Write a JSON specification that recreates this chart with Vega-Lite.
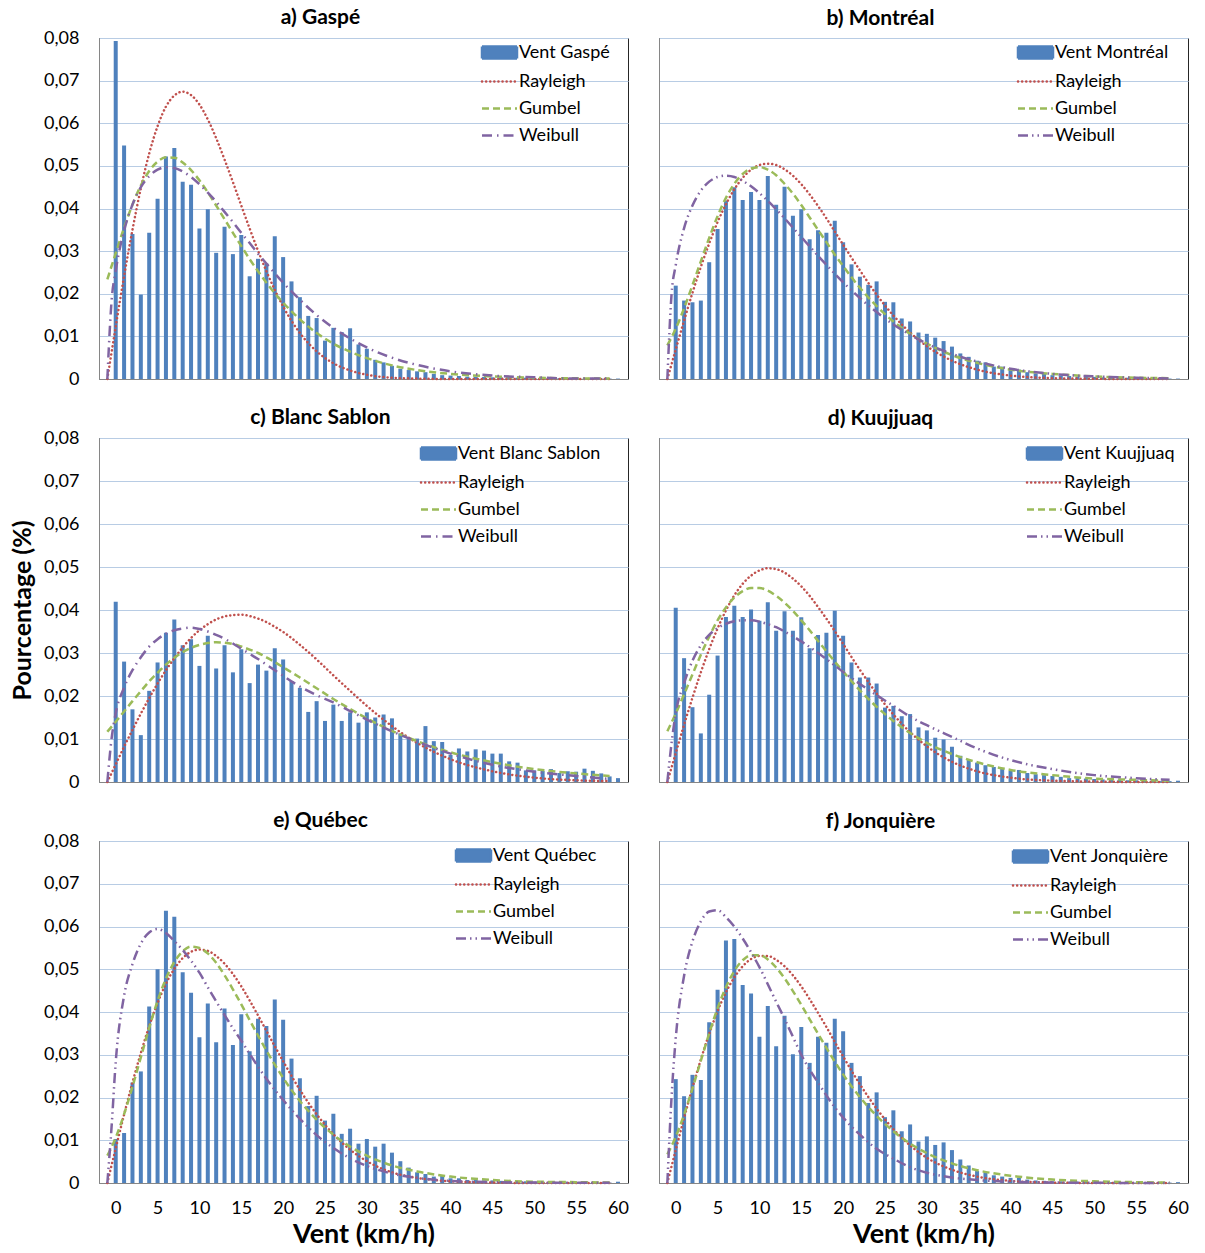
{
"$schema": "https://vega.github.io/schema/vega-lite/v6.json",
"background": "white",
"padding": {"left": 10, "top": 6, "right": 5, "bottom": 5},
"config": {
  "font": "Lato",
  "view": {"stroke": "#262626", "strokeWidth": 1},
  "axis": {"domainColor": "#868686", "gridColor": "#b8cce4", "gridWidth": 1, "ticks": false, "labelFont": "Lato", "labelFontSize": 18, "labelColor": "#000000", "titleFont": "Lato", "titleFontWeight": "bold", "titleColor": "#000000"},
  "title": {"font": "Lato", "fontSize": 21, "fontWeight": "bold", "color": "#000000", "dx": -43, "offset": 1, "baseline": "alphabetic"},
  "legend": {"orient": "none", "labelFont": "Lato", "labelFontSize": 18, "labelColor": "#000000", "symbolSize": 400, "rowPadding": 6, "labelOffset": 8, "padding": 0, "symbolStrokeWidth": 2.5}
},
"datasets": {
"a": [
{"s":"V","x":0,"y":0.0793},{"s":"V","x":1,"y":0.0548},{"s":"V","x":2,"y":0.034},{"s":"V","x":3,"y":0.0198},{"s":"V","x":4,"y":0.0343},{"s":"V","x":5,"y":0.0423},{"s":"V","x":6,"y":0.0522},{"s":"V","x":7,"y":0.0542},{"s":"V","x":8,"y":0.0463},{"s":"V","x":9,"y":0.0456},{"s":"V","x":10,"y":0.0353},{"s":"V","x":11,"y":0.0398},{"s":"V","x":12,"y":0.0296},{"s":"V","x":13,"y":0.0357},{"s":"V","x":14,"y":0.0293},{"s":"V","x":15,"y":0.0338},{"s":"V","x":16,"y":0.0241},{"s":"V","x":17,"y":0.0282},{"s":"V","x":18,"y":0.0271},{"s":"V","x":19,"y":0.0335},{"s":"V","x":20,"y":0.0286},{"s":"V","x":21,"y":0.0229},{"s":"V","x":22,"y":0.0192},{"s":"V","x":23,"y":0.0148},{"s":"V","x":24,"y":0.0143},{"s":"V","x":25,"y":0.009},{"s":"V","x":26,"y":0.012},{"s":"V","x":27,"y":0.011},{"s":"V","x":28,"y":0.0119},{"s":"V","x":29,"y":0.0081},{"s":"V","x":30,"y":0.0071},{"s":"V","x":31,"y":0.0045},{"s":"V","x":32,"y":0.0039},{"s":"V","x":33,"y":0.0031},{"s":"V","x":34,"y":0.0024},{"s":"V","x":35,"y":0.0021},{"s":"V","x":36,"y":0.0018},{"s":"V","x":37,"y":0.0016},{"s":"V","x":38,"y":0.0012},{"s":"V","x":39,"y":0.0009},{"s":"V","x":40,"y":0.0008},{"s":"V","x":41,"y":0.0007},{"s":"V","x":42,"y":0.00055},{"s":"V","x":43,"y":0.0005},{"s":"V","x":44,"y":0.0005},{"s":"V","x":45,"y":0.0004},{"s":"V","x":46,"y":0.0004},{"s":"V","x":47,"y":0.0003},{"s":"V","x":48,"y":0.0003},{"s":"V","x":49,"y":0.0003},{"s":"V","x":50,"y":0.0002},{"s":"V","x":51,"y":0.0002},{"s":"V","x":52,"y":0.0002},{"s":"V","x":53,"y":0.0002},{"s":"V","x":54,"y":0.0001},{"s":"V","x":55,"y":0.0001},{"s":"V","x":56,"y":0.0001},{"s":"V","x":57,"y":0.0001},{"s":"V","x":58,"y":0.0001},{"s":"V","x":59,"y":0.0001},{"s":"V","x":60,"y":0.0001},
{"s":"R","x":-1,"y":0},{"s":"R","x":0,"y":0.0123},{"s":"R","x":1,"y":0.0241},{"s":"R","x":2,"y":0.035},{"s":"R","x":3,"y":0.0447},{"s":"R","x":4,"y":0.0529},{"s":"R","x":5,"y":0.0593},{"s":"R","x":6,"y":0.0639},{"s":"R","x":7,"y":0.0665},{"s":"R","x":8,"y":0.0674},{"s":"R","x":9,"y":0.0666},{"s":"R","x":10,"y":0.0644},{"s":"R","x":11,"y":0.0609},{"s":"R","x":12,"y":0.0565},{"s":"R","x":13,"y":0.0515},{"s":"R","x":14,"y":0.0462},{"s":"R","x":15,"y":0.0407},{"s":"R","x":16,"y":0.0353},{"s":"R","x":17,"y":0.0301},{"s":"R","x":18,"y":0.0253},{"s":"R","x":19,"y":0.0209},{"s":"R","x":20,"y":0.017},{"s":"R","x":22,"y":0.0108},{"s":"R","x":24,"y":0.0065},{"s":"R","x":26,"y":0.0037},{"s":"R","x":28,"y":0.002},{"s":"R","x":30,"y":0.001},{"s":"R","x":33,"y":0.0003},{"s":"R","x":36,"y":0.0001},{"s":"R","x":40,"y":0},{"s":"R","x":45,"y":0},{"s":"R","x":50,"y":0},{"s":"R","x":55,"y":0},{"s":"R","x":59,"y":0},
{"s":"G","x":-1,"y":0.0234},{"s":"G","x":0,"y":0.0295},{"s":"G","x":1,"y":0.0355},{"s":"G","x":2,"y":0.0409},{"s":"G","x":3,"y":0.0454},{"s":"G","x":4,"y":0.0488},{"s":"G","x":5,"y":0.051},{"s":"G","x":6,"y":0.052},{"s":"G","x":7,"y":0.0519},{"s":"G","x":8,"y":0.0508},{"s":"G","x":9,"y":0.049},{"s":"G","x":10,"y":0.0466},{"s":"G","x":11,"y":0.0438},{"s":"G","x":12,"y":0.0407},{"s":"G","x":13,"y":0.0375},{"s":"G","x":14,"y":0.0343},{"s":"G","x":15,"y":0.0312},{"s":"G","x":16,"y":0.0281},{"s":"G","x":17,"y":0.0253},{"s":"G","x":18,"y":0.0226},{"s":"G","x":19,"y":0.0201},{"s":"G","x":20,"y":0.0179},{"s":"G","x":22,"y":0.014},{"s":"G","x":24,"y":0.0108},{"s":"G","x":26,"y":0.0083},{"s":"G","x":28,"y":0.0064},{"s":"G","x":30,"y":0.0049},{"s":"G","x":33,"y":0.0032},{"s":"G","x":36,"y":0.0021},{"s":"G","x":40,"y":0.0012},{"s":"G","x":45,"y":0.0006},{"s":"G","x":50,"y":0.0003},{"s":"G","x":55,"y":0.00015},{"s":"G","x":59,"y":0.0001},
{"s":"W","x":-1,"y":0},{"s":"W","x":-0.5,"y":0.0182},{"s":"W","x":0,"y":0.0254},{"s":"W","x":1,"y":0.0348},{"s":"W","x":2,"y":0.0409},{"s":"W","x":3,"y":0.045},{"s":"W","x":4,"y":0.0476},{"s":"W","x":5,"y":0.0491},{"s":"W","x":6,"y":0.0497},{"s":"W","x":7,"y":0.0495},{"s":"W","x":8,"y":0.0487},{"s":"W","x":9,"y":0.0474},{"s":"W","x":10,"y":0.0457},{"s":"W","x":11,"y":0.0437},{"s":"W","x":12,"y":0.0416},{"s":"W","x":13,"y":0.0392},{"s":"W","x":14,"y":0.0368},{"s":"W","x":15,"y":0.0343},{"s":"W","x":16,"y":0.0319},{"s":"W","x":17,"y":0.0294},{"s":"W","x":18,"y":0.0271},{"s":"W","x":19,"y":0.0248},{"s":"W","x":20,"y":0.0226},{"s":"W","x":22,"y":0.0186},{"s":"W","x":24,"y":0.015},{"s":"W","x":26,"y":0.012},{"s":"W","x":28,"y":0.0095},{"s":"W","x":30,"y":0.0074},{"s":"W","x":33,"y":0.005},{"s":"W","x":36,"y":0.0033},{"s":"W","x":40,"y":0.0018},{"s":"W","x":45,"y":0.0008},{"s":"W","x":50,"y":0.0004},{"s":"W","x":55,"y":0.0001},{"s":"W","x":59,"y":0.0001}
],
"b": [
{"s":"V","x":0,"y":0.0219},{"s":"V","x":1,"y":0.0184},{"s":"V","x":2,"y":0.018},{"s":"V","x":3,"y":0.0184},{"s":"V","x":4,"y":0.0274},{"s":"V","x":5,"y":0.0352},{"s":"V","x":6,"y":0.0419},{"s":"V","x":7,"y":0.045},{"s":"V","x":8,"y":0.042},{"s":"V","x":9,"y":0.0439},{"s":"V","x":10,"y":0.042},{"s":"V","x":11,"y":0.0476},{"s":"V","x":12,"y":0.0409},{"s":"V","x":13,"y":0.0451},{"s":"V","x":14,"y":0.0383},{"s":"V","x":15,"y":0.0398},{"s":"V","x":16,"y":0.0328},{"s":"V","x":17,"y":0.0349},{"s":"V","x":18,"y":0.0343},{"s":"V","x":19,"y":0.0371},{"s":"V","x":20,"y":0.0321},{"s":"V","x":21,"y":0.0269},{"s":"V","x":22,"y":0.024},{"s":"V","x":23,"y":0.0221},{"s":"V","x":24,"y":0.0229},{"s":"V","x":25,"y":0.0181},{"s":"V","x":26,"y":0.018},{"s":"V","x":27,"y":0.0142},{"s":"V","x":28,"y":0.0135},{"s":"V","x":29,"y":0.0109},{"s":"V","x":30,"y":0.0106},{"s":"V","x":31,"y":0.0097},{"s":"V","x":32,"y":0.0089},{"s":"V","x":33,"y":0.0076},{"s":"V","x":34,"y":0.006},{"s":"V","x":35,"y":0.0052},{"s":"V","x":36,"y":0.0043},{"s":"V","x":37,"y":0.0039},{"s":"V","x":38,"y":0.0029},{"s":"V","x":39,"y":0.0029},{"s":"V","x":40,"y":0.0023},{"s":"V","x":41,"y":0.0022},{"s":"V","x":42,"y":0.0016},{"s":"V","x":43,"y":0.0013},{"s":"V","x":44,"y":0.0012},{"s":"V","x":45,"y":0.0009},{"s":"V","x":46,"y":0.0008},{"s":"V","x":47,"y":0.0007},{"s":"V","x":48,"y":0.0006},{"s":"V","x":49,"y":0.0005},{"s":"V","x":50,"y":0.0005},{"s":"V","x":51,"y":0.0004},{"s":"V","x":52,"y":0.0004},{"s":"V","x":53,"y":0.0003},{"s":"V","x":54,"y":0.0003},{"s":"V","x":55,"y":0.0002},{"s":"V","x":56,"y":0.0002},{"s":"V","x":57,"y":0.0002},{"s":"V","x":58,"y":0.0001},{"s":"V","x":59,"y":0.0001},{"s":"V","x":60,"y":0.0001},
{"s":"R","x":-1,"y":0},{"s":"R","x":0,"y":0.0069},{"s":"R","x":1,"y":0.0137},{"s":"R","x":2,"y":0.0202},{"s":"R","x":3,"y":0.0263},{"s":"R","x":4,"y":0.0318},{"s":"R","x":5,"y":0.0368},{"s":"R","x":6,"y":0.041},{"s":"R","x":7,"y":0.0445},{"s":"R","x":8,"y":0.0472},{"s":"R","x":9,"y":0.0491},{"s":"R","x":10,"y":0.0502},{"s":"R","x":11,"y":0.0505},{"s":"R","x":12,"y":0.0502},{"s":"R","x":13,"y":0.0492},{"s":"R","x":14,"y":0.0477},{"s":"R","x":15,"y":0.0457},{"s":"R","x":16,"y":0.0433},{"s":"R","x":17,"y":0.0406},{"s":"R","x":18,"y":0.0377},{"s":"R","x":19,"y":0.0346},{"s":"R","x":20,"y":0.0315},{"s":"R","x":22,"y":0.0255},{"s":"R","x":24,"y":0.0198},{"s":"R","x":26,"y":0.0149},{"s":"R","x":28,"y":0.0109},{"s":"R","x":30,"y":0.0077},{"s":"R","x":33,"y":0.0043},{"s":"R","x":36,"y":0.0022},{"s":"R","x":40,"y":0.0008},{"s":"R","x":45,"y":0.0002},{"s":"R","x":50,"y":0.00005},{"s":"R","x":55,"y":0},{"s":"R","x":59,"y":0},
{"s":"G","x":-1,"y":0.0079},{"s":"G","x":0,"y":0.0118},{"s":"G","x":1,"y":0.0166},{"s":"G","x":2,"y":0.022},{"s":"G","x":3,"y":0.0276},{"s":"G","x":4,"y":0.0331},{"s":"G","x":5,"y":0.0382},{"s":"G","x":6,"y":0.0425},{"s":"G","x":7,"y":0.0458},{"s":"G","x":8,"y":0.0481},{"s":"G","x":9,"y":0.0494},{"s":"G","x":10,"y":0.0497},{"s":"G","x":11,"y":0.0491},{"s":"G","x":12,"y":0.0478},{"s":"G","x":13,"y":0.0458},{"s":"G","x":14,"y":0.0435},{"s":"G","x":15,"y":0.0408},{"s":"G","x":16,"y":0.0379},{"s":"G","x":17,"y":0.035},{"s":"G","x":18,"y":0.0321},{"s":"G","x":19,"y":0.0292},{"s":"G","x":20,"y":0.0265},{"s":"G","x":22,"y":0.0214},{"s":"G","x":24,"y":0.0171},{"s":"G","x":26,"y":0.0135},{"s":"G","x":28,"y":0.0106},{"s":"G","x":30,"y":0.0083},{"s":"G","x":33,"y":0.0056},{"s":"G","x":36,"y":0.0038},{"s":"G","x":40,"y":0.0022},{"s":"G","x":45,"y":0.0012},{"s":"G","x":50,"y":0.0006},{"s":"G","x":55,"y":0.0003},{"s":"G","x":59,"y":0.0002},
{"s":"W","x":-1,"y":0},{"s":"W","x":-0.5,"y":0.0198},{"s":"W","x":0,"y":0.0267},{"s":"W","x":1,"y":0.0354},{"s":"W","x":2,"y":0.0407},{"s":"W","x":3,"y":0.0442},{"s":"W","x":4,"y":0.0463},{"s":"W","x":5,"y":0.0474},{"s":"W","x":6,"y":0.0477},{"s":"W","x":7,"y":0.0474},{"s":"W","x":8,"y":0.0465},{"s":"W","x":9,"y":0.0452},{"s":"W","x":10,"y":0.0436},{"s":"W","x":11,"y":0.0418},{"s":"W","x":12,"y":0.0398},{"s":"W","x":13,"y":0.0377},{"s":"W","x":14,"y":0.0355},{"s":"W","x":15,"y":0.0333},{"s":"W","x":16,"y":0.0311},{"s":"W","x":17,"y":0.0289},{"s":"W","x":18,"y":0.0268},{"s":"W","x":19,"y":0.0247},{"s":"W","x":20,"y":0.0227},{"s":"W","x":22,"y":0.019},{"s":"W","x":24,"y":0.0157},{"s":"W","x":26,"y":0.0128},{"s":"W","x":28,"y":0.0104},{"s":"W","x":30,"y":0.0083},{"s":"W","x":33,"y":0.0059},{"s":"W","x":36,"y":0.0041},{"s":"W","x":40,"y":0.0024},{"s":"W","x":45,"y":0.0012},{"s":"W","x":50,"y":0.0006},{"s":"W","x":55,"y":0.0003},{"s":"W","x":59,"y":0.0001}
],
"c": [
{"s":"V","x":0,"y":0.0419},{"s":"V","x":1,"y":0.028},{"s":"V","x":2,"y":0.0169},{"s":"V","x":3,"y":0.0109},{"s":"V","x":4,"y":0.0212},{"s":"V","x":5,"y":0.0278},{"s":"V","x":6,"y":0.0347},{"s":"V","x":7,"y":0.0378},{"s":"V","x":8,"y":0.0318},{"s":"V","x":9,"y":0.0332},{"s":"V","x":10,"y":0.027},{"s":"V","x":11,"y":0.034},{"s":"V","x":12,"y":0.0264},{"s":"V","x":13,"y":0.0318},{"s":"V","x":14,"y":0.0255},{"s":"V","x":15,"y":0.0309},{"s":"V","x":16,"y":0.023},{"s":"V","x":17,"y":0.0273},{"s":"V","x":18,"y":0.0259},{"s":"V","x":19,"y":0.0311},{"s":"V","x":20,"y":0.0285},{"s":"V","x":21,"y":0.0235},{"s":"V","x":22,"y":0.0219},{"s":"V","x":23,"y":0.0163},{"s":"V","x":24,"y":0.0188},{"s":"V","x":25,"y":0.0142},{"s":"V","x":26,"y":0.018},{"s":"V","x":27,"y":0.0142},{"s":"V","x":28,"y":0.0162},{"s":"V","x":29,"y":0.0138},{"s":"V","x":30,"y":0.0162},{"s":"V","x":31,"y":0.015},{"s":"V","x":32,"y":0.0157},{"s":"V","x":33,"y":0.0148},{"s":"V","x":34,"y":0.0113},{"s":"V","x":35,"y":0.0101},{"s":"V","x":36,"y":0.0101},{"s":"V","x":37,"y":0.013},{"s":"V","x":38,"y":0.0095},{"s":"V","x":39,"y":0.0093},{"s":"V","x":40,"y":0.0063},{"s":"V","x":41,"y":0.0078},{"s":"V","x":42,"y":0.0071},{"s":"V","x":43,"y":0.0076},{"s":"V","x":44,"y":0.0073},{"s":"V","x":45,"y":0.0066},{"s":"V","x":46,"y":0.0066},{"s":"V","x":47,"y":0.0048},{"s":"V","x":48,"y":0.0045},{"s":"V","x":49,"y":0.0027},{"s":"V","x":50,"y":0.0027},{"s":"V","x":51,"y":0.0026},{"s":"V","x":52,"y":0.003},{"s":"V","x":53,"y":0.0021},{"s":"V","x":54,"y":0.0025},{"s":"V","x":55,"y":0.0024},{"s":"V","x":56,"y":0.0031},{"s":"V","x":57,"y":0.0026},{"s":"V","x":58,"y":0.002},{"s":"V","x":59,"y":0.0013},{"s":"V","x":60,"y":0.0009},
{"s":"R","x":-1,"y":0},{"s":"R","x":0,"y":0.0041},{"s":"R","x":1,"y":0.0082},{"s":"R","x":2,"y":0.0121},{"s":"R","x":3,"y":0.0159},{"s":"R","x":4,"y":0.0195},{"s":"R","x":5,"y":0.0229},{"s":"R","x":6,"y":0.026},{"s":"R","x":7,"y":0.0288},{"s":"R","x":8,"y":0.0313},{"s":"R","x":9,"y":0.0335},{"s":"R","x":10,"y":0.0353},{"s":"R","x":11,"y":0.0367},{"s":"R","x":12,"y":0.0378},{"s":"R","x":13,"y":0.0385},{"s":"R","x":14,"y":0.0388},{"s":"R","x":15,"y":0.0389},{"s":"R","x":16,"y":0.0386},{"s":"R","x":17,"y":0.038},{"s":"R","x":18,"y":0.0372},{"s":"R","x":19,"y":0.0361},{"s":"R","x":20,"y":0.0349},{"s":"R","x":22,"y":0.0319},{"s":"R","x":24,"y":0.0285},{"s":"R","x":26,"y":0.0248},{"s":"R","x":28,"y":0.0212},{"s":"R","x":30,"y":0.0177},{"s":"R","x":33,"y":0.013},{"s":"R","x":36,"y":0.0091},{"s":"R","x":40,"y":0.0053},{"s":"R","x":45,"y":0.0025},{"s":"R","x":50,"y":0.001},{"s":"R","x":55,"y":0.0004},{"s":"R","x":59,"y":0.0002},
{"s":"G","x":-1,"y":0.0117},{"s":"G","x":0,"y":0.014},{"s":"G","x":1,"y":0.0164},{"s":"G","x":2,"y":0.0188},{"s":"G","x":3,"y":0.0211},{"s":"G","x":4,"y":0.0234},{"s":"G","x":5,"y":0.0254},{"s":"G","x":6,"y":0.0273},{"s":"G","x":7,"y":0.0289},{"s":"G","x":8,"y":0.0302},{"s":"G","x":9,"y":0.0312},{"s":"G","x":10,"y":0.0319},{"s":"G","x":11,"y":0.0323},{"s":"G","x":12,"y":0.0325},{"s":"G","x":13,"y":0.0324},{"s":"G","x":14,"y":0.0321},{"s":"G","x":15,"y":0.0315},{"s":"G","x":16,"y":0.0308},{"s":"G","x":17,"y":0.03},{"s":"G","x":18,"y":0.029},{"s":"G","x":19,"y":0.0279},{"s":"G","x":20,"y":0.0267},{"s":"G","x":22,"y":0.0243},{"s":"G","x":24,"y":0.0218},{"s":"G","x":26,"y":0.0193},{"s":"G","x":28,"y":0.017},{"s":"G","x":30,"y":0.0148},{"s":"G","x":33,"y":0.0119},{"s":"G","x":36,"y":0.0095},{"s":"G","x":40,"y":0.0069},{"s":"G","x":45,"y":0.0046},{"s":"G","x":50,"y":0.003},{"s":"G","x":55,"y":0.002},{"s":"G","x":59,"y":0.0014},
{"s":"W","x":-1,"y":0},{"s":"W","x":-0.5,"y":0.01},{"s":"W","x":0,"y":0.016},{"s":"W","x":1,"y":0.022},{"s":"W","x":2,"y":0.026},{"s":"W","x":3,"y":0.029},{"s":"W","x":4,"y":0.0315},{"s":"W","x":5,"y":0.0332},{"s":"W","x":6,"y":0.0345},{"s":"W","x":7,"y":0.0353},{"s":"W","x":8,"y":0.0357},{"s":"W","x":9,"y":0.0359},{"s":"W","x":10,"y":0.0356},{"s":"W","x":11,"y":0.035},{"s":"W","x":12,"y":0.0342},{"s":"W","x":13,"y":0.0333},{"s":"W","x":14,"y":0.0322},{"s":"W","x":15,"y":0.031},{"s":"W","x":16,"y":0.0298},{"s":"W","x":17,"y":0.0286},{"s":"W","x":18,"y":0.0273},{"s":"W","x":19,"y":0.026},{"s":"W","x":20,"y":0.0247},{"s":"W","x":22,"y":0.0222},{"s":"W","x":24,"y":0.0202},{"s":"W","x":26,"y":0.0185},{"s":"W","x":28,"y":0.0165},{"s":"W","x":30,"y":0.0145},{"s":"W","x":33,"y":0.0118},{"s":"W","x":36,"y":0.0094},{"s":"W","x":40,"y":0.0066},{"s":"W","x":45,"y":0.004},{"s":"W","x":50,"y":0.0024},{"s":"W","x":55,"y":0.0014},{"s":"W","x":59,"y":0.0007}
],
"d": [
{"s":"V","x":0,"y":0.0405},{"s":"V","x":1,"y":0.0288},{"s":"V","x":2,"y":0.0174},{"s":"V","x":3,"y":0.0113},{"s":"V","x":4,"y":0.0203},{"s":"V","x":5,"y":0.0294},{"s":"V","x":6,"y":0.0384},{"s":"V","x":7,"y":0.041},{"s":"V","x":8,"y":0.0384},{"s":"V","x":9,"y":0.0401},{"s":"V","x":10,"y":0.0375},{"s":"V","x":11,"y":0.0418},{"s":"V","x":12,"y":0.0352},{"s":"V","x":13,"y":0.0397},{"s":"V","x":14,"y":0.0352},{"s":"V","x":15,"y":0.0383},{"s":"V","x":16,"y":0.0311},{"s":"V","x":17,"y":0.0342},{"s":"V","x":18,"y":0.0347},{"s":"V","x":19,"y":0.0398},{"s":"V","x":20,"y":0.034},{"s":"V","x":21,"y":0.0278},{"s":"V","x":22,"y":0.0243},{"s":"V","x":23,"y":0.0243},{"s":"V","x":24,"y":0.0229},{"s":"V","x":25,"y":0.0173},{"s":"V","x":26,"y":0.0177},{"s":"V","x":27,"y":0.0153},{"s":"V","x":28,"y":0.0158},{"s":"V","x":29,"y":0.0127},{"s":"V","x":30,"y":0.012},{"s":"V","x":31,"y":0.0103},{"s":"V","x":32,"y":0.0099},{"s":"V","x":33,"y":0.0082},{"s":"V","x":34,"y":0.0061},{"s":"V","x":35,"y":0.0051},{"s":"V","x":36,"y":0.0045},{"s":"V","x":37,"y":0.0039},{"s":"V","x":38,"y":0.0035},{"s":"V","x":39,"y":0.0032},{"s":"V","x":40,"y":0.0026},{"s":"V","x":41,"y":0.0028},{"s":"V","x":42,"y":0.0021},{"s":"V","x":43,"y":0.0018},{"s":"V","x":44,"y":0.0016},{"s":"V","x":45,"y":0.0014},{"s":"V","x":46,"y":0.0012},{"s":"V","x":47,"y":0.0009},{"s":"V","x":48,"y":0.0009},{"s":"V","x":49,"y":0.0008},{"s":"V","x":50,"y":0.0007},{"s":"V","x":51,"y":0.0006},{"s":"V","x":52,"y":0.0005},{"s":"V","x":53,"y":0.0005},{"s":"V","x":54,"y":0.0004},{"s":"V","x":55,"y":0.0004},{"s":"V","x":56,"y":0.0003},{"s":"V","x":57,"y":0.0003},{"s":"V","x":58,"y":0.0002},{"s":"V","x":59,"y":0.0002},{"s":"V","x":60,"y":0.0003},
{"s":"R","x":-1,"y":0},{"s":"R","x":0,"y":0.0067},{"s":"R","x":1,"y":0.0133},{"s":"R","x":2,"y":0.0196},{"s":"R","x":3,"y":0.0255},{"s":"R","x":4,"y":0.0309},{"s":"R","x":5,"y":0.0357},{"s":"R","x":6,"y":0.0399},{"s":"R","x":7,"y":0.0434},{"s":"R","x":8,"y":0.0461},{"s":"R","x":9,"y":0.048},{"s":"R","x":10,"y":0.0492},{"s":"R","x":11,"y":0.0497},{"s":"R","x":12,"y":0.0495},{"s":"R","x":13,"y":0.0487},{"s":"R","x":14,"y":0.0473},{"s":"R","x":15,"y":0.0455},{"s":"R","x":16,"y":0.0433},{"s":"R","x":17,"y":0.0407},{"s":"R","x":18,"y":0.038},{"s":"R","x":19,"y":0.0351},{"s":"R","x":20,"y":0.0321},{"s":"R","x":22,"y":0.0261},{"s":"R","x":24,"y":0.0206},{"s":"R","x":26,"y":0.0157},{"s":"R","x":28,"y":0.0116},{"s":"R","x":30,"y":0.0083},{"s":"R","x":33,"y":0.0047},{"s":"R","x":36,"y":0.0025},{"s":"R","x":40,"y":0.001},{"s":"R","x":45,"y":0.0003},{"s":"R","x":50,"y":0.0001},{"s":"R","x":55,"y":0},{"s":"R","x":59,"y":0},
{"s":"G","x":-1,"y":0.0118},{"s":"G","x":0,"y":0.0159},{"s":"G","x":1,"y":0.0204},{"s":"G","x":2,"y":0.025},{"s":"G","x":3,"y":0.0296},{"s":"G","x":4,"y":0.0338},{"s":"G","x":5,"y":0.0376},{"s":"G","x":6,"y":0.0406},{"s":"G","x":7,"y":0.0429},{"s":"G","x":8,"y":0.0444},{"s":"G","x":9,"y":0.0451},{"s":"G","x":10,"y":0.0451},{"s":"G","x":11,"y":0.0445},{"s":"G","x":12,"y":0.0433},{"s":"G","x":13,"y":0.0417},{"s":"G","x":14,"y":0.0398},{"s":"G","x":15,"y":0.0376},{"s":"G","x":16,"y":0.0353},{"s":"G","x":17,"y":0.0328},{"s":"G","x":18,"y":0.0304},{"s":"G","x":19,"y":0.028},{"s":"G","x":20,"y":0.0257},{"s":"G","x":22,"y":0.0213},{"s":"G","x":24,"y":0.0175},{"s":"G","x":26,"y":0.0142},{"s":"G","x":28,"y":0.0114},{"s":"G","x":30,"y":0.0091},{"s":"G","x":33,"y":0.0065},{"s":"G","x":36,"y":0.0046},{"s":"G","x":40,"y":0.0028},{"s":"G","x":45,"y":0.0016},{"s":"G","x":50,"y":0.0008},{"s":"G","x":55,"y":0.0005},{"s":"G","x":59,"y":0.0003},
{"s":"W","x":-1,"y":0},{"s":"W","x":-0.5,"y":0.009},{"s":"W","x":0,"y":0.016},{"s":"W","x":1,"y":0.023},{"s":"W","x":2,"y":0.0282},{"s":"W","x":3,"y":0.0318},{"s":"W","x":4,"y":0.0342},{"s":"W","x":5,"y":0.0358},{"s":"W","x":6,"y":0.0368},{"s":"W","x":7,"y":0.0374},{"s":"W","x":8,"y":0.0376},{"s":"W","x":9,"y":0.0376},{"s":"W","x":10,"y":0.0373},{"s":"W","x":11,"y":0.0367},{"s":"W","x":12,"y":0.036},{"s":"W","x":13,"y":0.035},{"s":"W","x":14,"y":0.0339},{"s":"W","x":15,"y":0.0327},{"s":"W","x":16,"y":0.0314},{"s":"W","x":17,"y":0.03},{"s":"W","x":18,"y":0.0286},{"s":"W","x":19,"y":0.0271},{"s":"W","x":20,"y":0.0256},{"s":"W","x":22,"y":0.0228},{"s":"W","x":24,"y":0.0202},{"s":"W","x":26,"y":0.0177},{"s":"W","x":28,"y":0.0152},{"s":"W","x":30,"y":0.0132},{"s":"W","x":33,"y":0.0105},{"s":"W","x":36,"y":0.0078},{"s":"W","x":40,"y":0.0051},{"s":"W","x":45,"y":0.003},{"s":"W","x":50,"y":0.0016},{"s":"W","x":55,"y":0.0009},{"s":"W","x":59,"y":0.0005}
],
"e": [
{"s":"V","x":0,"y":0.0103},{"s":"V","x":1,"y":0.0117},{"s":"V","x":2,"y":0.0235},{"s":"V","x":3,"y":0.0261},{"s":"V","x":4,"y":0.0413},{"s":"V","x":5,"y":0.05},{"s":"V","x":6,"y":0.0637},{"s":"V","x":7,"y":0.0623},{"s":"V","x":8,"y":0.0493},{"s":"V","x":9,"y":0.0445},{"s":"V","x":10,"y":0.0341},{"s":"V","x":11,"y":0.042},{"s":"V","x":12,"y":0.0329},{"s":"V","x":13,"y":0.0408},{"s":"V","x":14,"y":0.0323},{"s":"V","x":15,"y":0.0395},{"s":"V","x":16,"y":0.0308},{"s":"V","x":17,"y":0.0384},{"s":"V","x":18,"y":0.0367},{"s":"V","x":19,"y":0.0429},{"s":"V","x":20,"y":0.0382},{"s":"V","x":21,"y":0.0291},{"s":"V","x":22,"y":0.0245},{"s":"V","x":23,"y":0.018},{"s":"V","x":24,"y":0.0204},{"s":"V","x":25,"y":0.0146},{"s":"V","x":26,"y":0.0162},{"s":"V","x":27,"y":0.0115},{"s":"V","x":28,"y":0.0127},{"s":"V","x":29,"y":0.0092},{"s":"V","x":30,"y":0.0103},{"s":"V","x":31,"y":0.0085},{"s":"V","x":32,"y":0.0092},{"s":"V","x":33,"y":0.0071},{"s":"V","x":34,"y":0.0051},{"s":"V","x":35,"y":0.0036},{"s":"V","x":36,"y":0.0025},{"s":"V","x":37,"y":0.0021},{"s":"V","x":38,"y":0.0015},{"s":"V","x":39,"y":0.0017},{"s":"V","x":40,"y":0.0011},{"s":"V","x":41,"y":0.0011},{"s":"V","x":42,"y":0.0007},{"s":"V","x":43,"y":0.0007},{"s":"V","x":44,"y":0.0006},{"s":"V","x":45,"y":0.0006},{"s":"V","x":46,"y":0.0005},{"s":"V","x":47,"y":0.0005},{"s":"V","x":48,"y":0.0004},{"s":"V","x":49,"y":0.0004},{"s":"V","x":50,"y":0.0003},{"s":"V","x":51,"y":0.0003},{"s":"V","x":52,"y":0.0003},{"s":"V","x":53,"y":0.0002},{"s":"V","x":54,"y":0.0002},{"s":"V","x":55,"y":0.0002},{"s":"V","x":56,"y":0.0002},{"s":"V","x":57,"y":0.0001},{"s":"V","x":58,"y":0.0001},{"s":"V","x":59,"y":0.0001},{"s":"V","x":60,"y":0.0003},
{"s":"R","x":-1,"y":0},{"s":"R","x":0,"y":0.0081},{"s":"R","x":1,"y":0.016},{"s":"R","x":2,"y":0.0235},{"s":"R","x":3,"y":0.0304},{"s":"R","x":4,"y":0.0367},{"s":"R","x":5,"y":0.0421},{"s":"R","x":6,"y":0.0466},{"s":"R","x":7,"y":0.0501},{"s":"R","x":8,"y":0.0526},{"s":"R","x":9,"y":0.0541},{"s":"R","x":10,"y":0.0546},{"s":"R","x":11,"y":0.0543},{"s":"R","x":12,"y":0.0531},{"s":"R","x":13,"y":0.0513},{"s":"R","x":14,"y":0.0489},{"s":"R","x":15,"y":0.046},{"s":"R","x":16,"y":0.0427},{"s":"R","x":17,"y":0.0392},{"s":"R","x":18,"y":0.0356},{"s":"R","x":19,"y":0.032},{"s":"R","x":20,"y":0.0285},{"s":"R","x":22,"y":0.0218},{"s":"R","x":24,"y":0.0161},{"s":"R","x":26,"y":0.0114},{"s":"R","x":28,"y":0.0078},{"s":"R","x":30,"y":0.0051},{"s":"R","x":33,"y":0.0025},{"s":"R","x":36,"y":0.0012},{"s":"R","x":40,"y":0.0004},{"s":"R","x":45,"y":0.0001},{"s":"R","x":50,"y":0},{"s":"R","x":55,"y":0},{"s":"R","x":59,"y":0},
{"s":"G","x":-1,"y":0.0064},{"s":"G","x":0,"y":0.0106},{"s":"G","x":1,"y":0.0161},{"s":"G","x":2,"y":0.0225},{"s":"G","x":3,"y":0.0294},{"s":"G","x":4,"y":0.0363},{"s":"G","x":5,"y":0.0426},{"s":"G","x":6,"y":0.0478},{"s":"G","x":7,"y":0.0517},{"s":"G","x":8,"y":0.0542},{"s":"G","x":9,"y":0.0553},{"s":"G","x":10,"y":0.055},{"s":"G","x":11,"y":0.0537},{"s":"G","x":12,"y":0.0515},{"s":"G","x":13,"y":0.0486},{"s":"G","x":14,"y":0.0453},{"s":"G","x":15,"y":0.0418},{"s":"G","x":16,"y":0.0381},{"s":"G","x":17,"y":0.0345},{"s":"G","x":18,"y":0.031},{"s":"G","x":19,"y":0.0277},{"s":"G","x":20,"y":0.0246},{"s":"G","x":22,"y":0.0192},{"s":"G","x":24,"y":0.0148},{"s":"G","x":26,"y":0.0113},{"s":"G","x":28,"y":0.0085},{"s":"G","x":30,"y":0.0064},{"s":"G","x":33,"y":0.0041},{"s":"G","x":36,"y":0.0027},{"s":"G","x":40,"y":0.0015},{"s":"G","x":45,"y":0.0007},{"s":"G","x":50,"y":0.0003},{"s":"G","x":55,"y":0.0002},{"s":"G","x":59,"y":0.0001},
{"s":"W","x":-1,"y":0},{"s":"W","x":-0.5,"y":0.013},{"s":"W","x":0,"y":0.0283},{"s":"W","x":1,"y":0.0438},{"s":"W","x":2,"y":0.0512},{"s":"W","x":3,"y":0.056},{"s":"W","x":4,"y":0.0586},{"s":"W","x":5,"y":0.0594},{"s":"W","x":6,"y":0.0585},{"s":"W","x":7,"y":0.0566},{"s":"W","x":8,"y":0.0545},{"s":"W","x":9,"y":0.052},{"s":"W","x":10,"y":0.0492},{"s":"W","x":11,"y":0.0458},{"s":"W","x":12,"y":0.0425},{"s":"W","x":13,"y":0.0393},{"s":"W","x":14,"y":0.0362},{"s":"W","x":15,"y":0.0333},{"s":"W","x":16,"y":0.0302},{"s":"W","x":17,"y":0.0272},{"s":"W","x":18,"y":0.0244},{"s":"W","x":19,"y":0.0218},{"s":"W","x":20,"y":0.0194},{"s":"W","x":22,"y":0.015},{"s":"W","x":24,"y":0.0112},{"s":"W","x":26,"y":0.0082},{"s":"W","x":28,"y":0.0058},{"s":"W","x":30,"y":0.004},{"s":"W","x":33,"y":0.0022},{"s":"W","x":36,"y":0.0012},{"s":"W","x":40,"y":0.0005},{"s":"W","x":45,"y":0.0002},{"s":"W","x":50,"y":0.0001},{"s":"W","x":55,"y":0.00005},{"s":"W","x":59,"y":0.00003}
],
"f": [
{"s":"V","x":0,"y":0.0243},{"s":"V","x":1,"y":0.0203},{"s":"V","x":2,"y":0.0253},{"s":"V","x":3,"y":0.0241},{"s":"V","x":4,"y":0.0376},{"s":"V","x":5,"y":0.0452},{"s":"V","x":6,"y":0.0567},{"s":"V","x":7,"y":0.0571},{"s":"V","x":8,"y":0.0463},{"s":"V","x":9,"y":0.0443},{"s":"V","x":10,"y":0.0342},{"s":"V","x":11,"y":0.0414},{"s":"V","x":12,"y":0.032},{"s":"V","x":13,"y":0.0391},{"s":"V","x":14,"y":0.0301},{"s":"V","x":15,"y":0.0365},{"s":"V","x":16,"y":0.0281},{"s":"V","x":17,"y":0.0342},{"s":"V","x":18,"y":0.0328},{"s":"V","x":19,"y":0.0384},{"s":"V","x":20,"y":0.0355},{"s":"V","x":21,"y":0.0281},{"s":"V","x":22,"y":0.025},{"s":"V","x":23,"y":0.0187},{"s":"V","x":24,"y":0.0212},{"s":"V","x":25,"y":0.0154},{"s":"V","x":26,"y":0.017},{"s":"V","x":27,"y":0.0121},{"s":"V","x":28,"y":0.0137},{"s":"V","x":29,"y":0.0097},{"s":"V","x":30,"y":0.0109},{"s":"V","x":31,"y":0.0089},{"s":"V","x":32,"y":0.0095},{"s":"V","x":33,"y":0.0077},{"s":"V","x":34,"y":0.0055},{"s":"V","x":35,"y":0.0041},{"s":"V","x":36,"y":0.0028},{"s":"V","x":37,"y":0.0025},{"s":"V","x":38,"y":0.0018},{"s":"V","x":39,"y":0.0015},{"s":"V","x":40,"y":0.0012},{"s":"V","x":41,"y":0.0012},{"s":"V","x":42,"y":0.0008},{"s":"V","x":43,"y":0.0006},{"s":"V","x":44,"y":0.0005},{"s":"V","x":45,"y":0.0004},{"s":"V","x":46,"y":0.0004},{"s":"V","x":47,"y":0.0003},{"s":"V","x":48,"y":0.0003},{"s":"V","x":49,"y":0.0003},{"s":"V","x":50,"y":0.0002},{"s":"V","x":51,"y":0.0002},{"s":"V","x":52,"y":0.0002},{"s":"V","x":53,"y":0.0002},{"s":"V","x":54,"y":0.0001},{"s":"V","x":55,"y":0.0001},{"s":"V","x":56,"y":0.0001},{"s":"V","x":57,"y":0.0001},{"s":"V","x":58,"y":0.0001},{"s":"V","x":59,"y":0.0001},{"s":"V","x":60,"y":0.0002},
{"s":"R","x":-1,"y":0},{"s":"R","x":0,"y":0.0077},{"s":"R","x":1,"y":0.0152},{"s":"R","x":2,"y":0.0223},{"s":"R","x":3,"y":0.0289},{"s":"R","x":4,"y":0.0349},{"s":"R","x":5,"y":0.0402},{"s":"R","x":6,"y":0.0446},{"s":"R","x":7,"y":0.0481},{"s":"R","x":8,"y":0.0507},{"s":"R","x":9,"y":0.0524},{"s":"R","x":10,"y":0.0531},{"s":"R","x":11,"y":0.0531},{"s":"R","x":12,"y":0.0522},{"s":"R","x":13,"y":0.0507},{"s":"R","x":14,"y":0.0486},{"s":"R","x":15,"y":0.046},{"s":"R","x":16,"y":0.043},{"s":"R","x":17,"y":0.0398},{"s":"R","x":18,"y":0.0365},{"s":"R","x":19,"y":0.033},{"s":"R","x":20,"y":0.0296},{"s":"R","x":22,"y":0.0231},{"s":"R","x":24,"y":0.0174},{"s":"R","x":26,"y":0.0126},{"s":"R","x":28,"y":0.0088},{"s":"R","x":30,"y":0.0059},{"s":"R","x":33,"y":0.0031},{"s":"R","x":36,"y":0.0015},{"s":"R","x":40,"y":0.0005},{"s":"R","x":45,"y":0.0001},{"s":"R","x":50,"y":0},{"s":"R","x":55,"y":0},{"s":"R","x":59,"y":0},
{"s":"G","x":-1,"y":0.0067},{"s":"G","x":0,"y":0.0108},{"s":"G","x":1,"y":0.016},{"s":"G","x":2,"y":0.0221},{"s":"G","x":3,"y":0.0286},{"s":"G","x":4,"y":0.035},{"s":"G","x":5,"y":0.0409},{"s":"G","x":6,"y":0.0458},{"s":"G","x":7,"y":0.0496},{"s":"G","x":8,"y":0.0521},{"s":"G","x":9,"y":0.0533},{"s":"G","x":10,"y":0.0533},{"s":"G","x":11,"y":0.0523},{"s":"G","x":12,"y":0.0504},{"s":"G","x":13,"y":0.0479},{"s":"G","x":14,"y":0.0449},{"s":"G","x":15,"y":0.0417},{"s":"G","x":16,"y":0.0383},{"s":"G","x":17,"y":0.0349},{"s":"G","x":18,"y":0.0316},{"s":"G","x":19,"y":0.0284},{"s":"G","x":20,"y":0.0254},{"s":"G","x":22,"y":0.0201},{"s":"G","x":24,"y":0.0157},{"s":"G","x":26,"y":0.0121},{"s":"G","x":28,"y":0.0092},{"s":"G","x":30,"y":0.007},{"s":"G","x":33,"y":0.0046},{"s":"G","x":36,"y":0.003},{"s":"G","x":40,"y":0.0017},{"s":"G","x":45,"y":0.0008},{"s":"G","x":50,"y":0.0004},{"s":"G","x":55,"y":0.0002},{"s":"G","x":59,"y":0.0001},
{"s":"W","x":-1,"y":0},{"s":"W","x":-0.5,"y":0.02},{"s":"W","x":0,"y":0.0338},{"s":"W","x":1,"y":0.0485},{"s":"W","x":2,"y":0.0565},{"s":"W","x":3,"y":0.0612},{"s":"W","x":4,"y":0.0635},{"s":"W","x":5,"y":0.0638},{"s":"W","x":6,"y":0.0622},{"s":"W","x":7,"y":0.06},{"s":"W","x":8,"y":0.0572},{"s":"W","x":9,"y":0.054},{"s":"W","x":10,"y":0.0505},{"s":"W","x":11,"y":0.0465},{"s":"W","x":12,"y":0.0424},{"s":"W","x":13,"y":0.0384},{"s":"W","x":14,"y":0.0342},{"s":"W","x":15,"y":0.03},{"s":"W","x":16,"y":0.0265},{"s":"W","x":17,"y":0.0235},{"s":"W","x":18,"y":0.0205},{"s":"W","x":19,"y":0.0177},{"s":"W","x":20,"y":0.0153},{"s":"W","x":22,"y":0.0113},{"s":"W","x":24,"y":0.008},{"s":"W","x":26,"y":0.0057},{"s":"W","x":28,"y":0.0037},{"s":"W","x":30,"y":0.0024},{"s":"W","x":33,"y":0.0013},{"s":"W","x":36,"y":0.0007},{"s":"W","x":40,"y":0.0003},{"s":"W","x":45,"y":0.0001},{"s":"W","x":50,"y":0.00005},{"s":"W","x":55,"y":0},{"s":"W","x":59,"y":0}
]
},
"bounds": "flush",
"columns": 2,
"spacing": {"row": 59, "column": 31},
"resolve": {"scale": {"color": "independent"}, "legend": {"color": "independent"}},
"concat": [
{
"width": 529, "height": 341,
"title": {"text": "a) Gaspé", "offset": 1},
"data": {"name": "a"},
"encoding": {
"x": {"field": "x", "type": "quantitative", "scale": {"domain": [-1.4, 60.6], "nice": false, "zero": false}, "axis": {"values": [0,5,10,15,20,25,30,35,40,45,50,55,60], "labels": false, "title": null, "grid": false}},
"y": {"field": "y", "type": "quantitative", "scale": {"domain": [0, 0.08], "nice": false}, "axis": {"values": [0,0.01,0.02,0.03,0.04,0.05,0.06,0.07,0.08], "labelExpr": "datum.value === 0 ? '0' : replace(format(datum.value, '.2f'), '.', ',')", "labelPadding": 20, "title": null, "grid": true}},
"color": {"field": "s", "type": "nominal", "scale": {"domain": ["V","R","G","W"], "range": ["#4f81bd","#c0504d","#9bbb59","#8064a2"]},
 "legend": {"title": null, "legendX": 389, "legendY": 3, "labelExpr": "datum.value === 'V' ? 'Vent Gaspé' : datum.value === 'R' ? 'Rayleigh' : datum.value === 'G' ? 'Gumbel' : 'Weibull'",
  "encode": {"symbols": {"update": {
   "shape": {"signal": "datum.value === 'V' ? 'M-1.75,-0.6H1.75V0.6H-1.75Z' : 'M-1.75,0H1.75'"},
   "fill": {"signal": "datum.value === 'V' ? '#4f81bd' : 'transparent'"},
   "stroke": {"signal": "datum.value === 'V' ? 'transparent' : datum.value === 'R' ? '#c0504d' : datum.value === 'G' ? '#9bbb59' : '#8064a2'"},
   "strokeWidth": {"value": 2.5},
   "strokeDash": {"signal": "datum.value === 'R' ? [0.1,4] : datum.value === 'G' ? [7,4] : datum.value === 'W' ? [10,5,1.5,5] : [1,0]"},
   "strokeCap": {"signal": "datum.value === 'R' ? 'round' : 'butt'"},
   "opacity": {"value": 1}}}}}}
},
"layer": [
{"transform": [{"filter": "datum.s === 'V'"}], "mark": {"type": "bar", "size": 4}},
{"transform": [{"filter": "datum.s === 'R'"}], "mark": {"type": "line", "strokeWidth": 2.5, "strokeDash": [0.1, 4], "strokeCap": "round", "interpolate": "monotone"}},
{"transform": [{"filter": "datum.s === 'G'"}], "mark": {"type": "line", "strokeWidth": 2.5, "strokeDash": [7, 4], "interpolate": "monotone"}},
{"transform": [{"filter": "datum.s === 'W'"}], "mark": {"type": "line", "strokeWidth": 2.5, "strokeDash": [10, 5, 1.5, 5], "interpolate": "monotone"}}
]
},
{
"width": 529, "height": 341,
"title": {"text": "b) Montréal", "offset": 9},
"data": {"name": "b"},
"encoding": {
"x": {"field": "x", "type": "quantitative", "scale": {"domain": [-1.4, 60.6], "nice": false, "zero": false}, "axis": {"values": [0,5,10,15,20,25,30,35,40,45,50,55,60], "labels": false, "title": null, "grid": false}},
"y": {"field": "y", "type": "quantitative", "scale": {"domain": [0, 0.08], "nice": false}, "axis": {"values": [0,0.01,0.02,0.03,0.04,0.05,0.06,0.07,0.08], "labels": false, "title": null, "grid": true}},
"color": {"field": "s", "type": "nominal", "scale": {"domain": ["V","R","G","W"], "range": ["#4f81bd","#c0504d","#9bbb59","#8064a2"]},
 "legend": {"title": null, "legendX": 365, "legendY": 3, "labelExpr": "datum.value === 'V' ? 'Vent Montréal' : datum.value === 'R' ? 'Rayleigh' : datum.value === 'G' ? 'Gumbel' : 'Weibull'",
  "encode": {"symbols": {"update": {
   "shape": {"signal": "datum.value === 'V' ? 'M-1.75,-0.6H1.75V0.6H-1.75Z' : 'M-1.75,0H1.75'"},
   "fill": {"signal": "datum.value === 'V' ? '#4f81bd' : 'transparent'"},
   "stroke": {"signal": "datum.value === 'V' ? 'transparent' : datum.value === 'R' ? '#c0504d' : datum.value === 'G' ? '#9bbb59' : '#8064a2'"},
   "strokeWidth": {"value": 2.5},
   "strokeDash": {"signal": "datum.value === 'R' ? [0.1,4] : datum.value === 'G' ? [7,4] : datum.value === 'W' ? [10,4,1.5,4,1.5,4] : [1,0]"},
   "strokeCap": {"signal": "datum.value === 'R' ? 'round' : 'butt'"},
   "opacity": {"value": 1}}}}}}
},
"layer": [
{"transform": [{"filter": "datum.s === 'V'"}], "mark": {"type": "bar", "size": 4}},
{"transform": [{"filter": "datum.s === 'R'"}], "mark": {"type": "line", "strokeWidth": 2.5, "strokeDash": [0.1, 4], "strokeCap": "round", "interpolate": "monotone"}},
{"transform": [{"filter": "datum.s === 'G'"}], "mark": {"type": "line", "strokeWidth": 2.5, "strokeDash": [7, 4], "interpolate": "monotone"}},
{"transform": [{"filter": "datum.s === 'W'"}], "mark": {"type": "line", "strokeWidth": 2.5, "strokeDash": [10, 4, 1.5, 4, 1.5, 4], "interpolate": "monotone"}}
]
},
{
"width": 529, "height": 344,
"title": {"text": "c) Blanc Sablon", "offset": 1},
"data": {"name": "c"},
"encoding": {
"x": {"field": "x", "type": "quantitative", "scale": {"domain": [-1.4, 60.6], "nice": false, "zero": false}, "axis": {"values": [0,5,10,15,20,25,30,35,40,45,50,55,60], "labels": false, "title": null, "grid": false}},
"y": {"field": "y", "type": "quantitative", "scale": {"domain": [0, 0.08], "nice": false}, "axis": {"values": [0,0.01,0.02,0.03,0.04,0.05,0.06,0.07,0.08], "labelExpr": "datum.value === 0 ? '0' : replace(format(datum.value, '.2f'), '.', ',')", "labelPadding": 20, "title": "Pourcentage (%)", "titleFontSize": 25, "titlePadding": 8, "grid": true}},
"color": {"field": "s", "type": "nominal", "scale": {"domain": ["V","R","G","W"], "range": ["#4f81bd","#c0504d","#9bbb59","#8064a2"]},
 "legend": {"title": null, "legendX": 328, "legendY": 4, "labelExpr": "datum.value === 'V' ? 'Vent Blanc Sablon' : datum.value === 'R' ? 'Rayleigh' : datum.value === 'G' ? 'Gumbel' : 'Weibull'",
  "encode": {"symbols": {"update": {
   "shape": {"signal": "datum.value === 'V' ? 'M-1.75,-0.6H1.75V0.6H-1.75Z' : 'M-1.75,0H1.75'"},
   "fill": {"signal": "datum.value === 'V' ? '#4f81bd' : 'transparent'"},
   "stroke": {"signal": "datum.value === 'V' ? 'transparent' : datum.value === 'R' ? '#c0504d' : datum.value === 'G' ? '#9bbb59' : '#8064a2'"},
   "strokeWidth": {"value": 2.5},
   "strokeDash": {"signal": "datum.value === 'R' ? [0.1,4] : datum.value === 'G' ? [7,4] : datum.value === 'W' ? [10,5,1.5,5] : [1,0]"},
   "strokeCap": {"signal": "datum.value === 'R' ? 'round' : 'butt'"},
   "opacity": {"value": 1}}}}}}
},
"layer": [
{"transform": [{"filter": "datum.s === 'V'"}], "mark": {"type": "bar", "size": 4}},
{"transform": [{"filter": "datum.s === 'R'"}], "mark": {"type": "line", "strokeWidth": 2.5, "strokeDash": [0.1, 4], "strokeCap": "round", "interpolate": "monotone"}},
{"transform": [{"filter": "datum.s === 'G'"}], "mark": {"type": "line", "strokeWidth": 2.5, "strokeDash": [7, 4], "interpolate": "monotone"}},
{"transform": [{"filter": "datum.s === 'W'"}], "mark": {"type": "line", "strokeWidth": 2.5, "strokeDash": [10, 5, 1.5, 5], "interpolate": "monotone"}}
]
},
{
"width": 529, "height": 344,
"title": {"text": "d) Kuujjuaq", "offset": 9},
"data": {"name": "d"},
"encoding": {
"x": {"field": "x", "type": "quantitative", "scale": {"domain": [-1.4, 60.6], "nice": false, "zero": false}, "axis": {"values": [0,5,10,15,20,25,30,35,40,45,50,55,60], "labels": false, "title": null, "grid": false}},
"y": {"field": "y", "type": "quantitative", "scale": {"domain": [0, 0.08], "nice": false}, "axis": {"values": [0,0.01,0.02,0.03,0.04,0.05,0.06,0.07,0.08], "labels": false, "title": null, "grid": true}},
"color": {"field": "s", "type": "nominal", "scale": {"domain": ["V","R","G","W"], "range": ["#4f81bd","#c0504d","#9bbb59","#8064a2"]},
 "legend": {"title": null, "legendX": 374, "legendY": 4, "labelExpr": "datum.value === 'V' ? 'Vent Kuujjuaq' : datum.value === 'R' ? 'Rayleigh' : datum.value === 'G' ? 'Gumbel' : 'Weibull'",
  "encode": {"symbols": {"update": {
   "shape": {"signal": "datum.value === 'V' ? 'M-1.75,-0.6H1.75V0.6H-1.75Z' : 'M-1.75,0H1.75'"},
   "fill": {"signal": "datum.value === 'V' ? '#4f81bd' : 'transparent'"},
   "stroke": {"signal": "datum.value === 'V' ? 'transparent' : datum.value === 'R' ? '#c0504d' : datum.value === 'G' ? '#9bbb59' : '#8064a2'"},
   "strokeWidth": {"value": 2.5},
   "strokeDash": {"signal": "datum.value === 'R' ? [0.1,4] : datum.value === 'G' ? [7,4] : datum.value === 'W' ? [10,4,1.5,4,1.5,4] : [1,0]"},
   "strokeCap": {"signal": "datum.value === 'R' ? 'round' : 'butt'"},
   "opacity": {"value": 1}}}}}}
},
"layer": [
{"transform": [{"filter": "datum.s === 'V'"}], "mark": {"type": "bar", "size": 4}},
{"transform": [{"filter": "datum.s === 'R'"}], "mark": {"type": "line", "strokeWidth": 2.5, "strokeDash": [0.1, 4], "strokeCap": "round", "interpolate": "monotone"}},
{"transform": [{"filter": "datum.s === 'G'"}], "mark": {"type": "line", "strokeWidth": 2.5, "strokeDash": [7, 4], "interpolate": "monotone"}},
{"transform": [{"filter": "datum.s === 'W'"}], "mark": {"type": "line", "strokeWidth": 2.5, "strokeDash": [10, 4, 1.5, 4, 1.5, 4], "interpolate": "monotone"}}
]
},
{
"width": 529, "height": 342,
"title": {"text": "e) Québec", "offset": 1},
"data": {"name": "e"},
"encoding": {
"x": {"field": "x", "type": "quantitative", "scale": {"domain": [-1.4, 60.6], "nice": false, "zero": false}, "axis": {"values": [0,5,10,15,20,25,30,35,40,45,50,55,60], "labelPadding": 16, "title": "Vent (km/h)", "titleFontSize": 27, "titlePadding": 4, "grid": false}},
"y": {"field": "y", "type": "quantitative", "scale": {"domain": [0, 0.08], "nice": false}, "axis": {"values": [0,0.01,0.02,0.03,0.04,0.05,0.06,0.07,0.08], "labelExpr": "datum.value === 0 ? '0' : replace(format(datum.value, '.2f'), '.', ',')", "labelPadding": 20, "title": null, "grid": true}},
"color": {"field": "s", "type": "nominal", "scale": {"domain": ["V","R","G","W"], "range": ["#4f81bd","#c0504d","#9bbb59","#8064a2"]},
 "legend": {"title": null, "legendX": 363, "legendY": 3, "labelExpr": "datum.value === 'V' ? 'Vent Québec' : datum.value === 'R' ? 'Rayleigh' : datum.value === 'G' ? 'Gumbel' : 'Weibull'",
  "encode": {"symbols": {"update": {
   "shape": {"signal": "datum.value === 'V' ? 'M-1.75,-0.6H1.75V0.6H-1.75Z' : 'M-1.75,0H1.75'"},
   "fill": {"signal": "datum.value === 'V' ? '#4f81bd' : 'transparent'"},
   "stroke": {"signal": "datum.value === 'V' ? 'transparent' : datum.value === 'R' ? '#c0504d' : datum.value === 'G' ? '#9bbb59' : '#8064a2'"},
   "strokeWidth": {"value": 2.5},
   "strokeDash": {"signal": "datum.value === 'R' ? [0.1,4] : datum.value === 'G' ? [7,4] : datum.value === 'W' ? [10,4,1.5,4,1.5,4] : [1,0]"},
   "strokeCap": {"signal": "datum.value === 'R' ? 'round' : 'butt'"},
   "opacity": {"value": 1}}}}}}
},
"layer": [
{"transform": [{"filter": "datum.s === 'V'"}], "mark": {"type": "bar", "size": 4}},
{"transform": [{"filter": "datum.s === 'R'"}], "mark": {"type": "line", "strokeWidth": 2.5, "strokeDash": [0.1, 4], "strokeCap": "round", "interpolate": "monotone"}},
{"transform": [{"filter": "datum.s === 'G'"}], "mark": {"type": "line", "strokeWidth": 2.5, "strokeDash": [7, 4], "interpolate": "monotone"}},
{"transform": [{"filter": "datum.s === 'W'"}], "mark": {"type": "line", "strokeWidth": 2.5, "strokeDash": [10, 4, 1.5, 4, 1.5, 4], "interpolate": "monotone"}}
]
},
{
"width": 529, "height": 342,
"title": {"text": "f) Jonquière", "offset": 9},
"data": {"name": "f"},
"encoding": {
"x": {"field": "x", "type": "quantitative", "scale": {"domain": [-1.4, 60.6], "nice": false, "zero": false}, "axis": {"values": [0,5,10,15,20,25,30,35,40,45,50,55,60], "labelPadding": 16, "title": "Vent (km/h)", "titleFontSize": 27, "titlePadding": 4, "grid": false}},
"y": {"field": "y", "type": "quantitative", "scale": {"domain": [0, 0.08], "nice": false}, "axis": {"values": [0,0.01,0.02,0.03,0.04,0.05,0.06,0.07,0.08], "labels": false, "title": null, "grid": true}},
"color": {"field": "s", "type": "nominal", "scale": {"domain": ["V","R","G","W"], "range": ["#4f81bd","#c0504d","#9bbb59","#8064a2"]},
 "legend": {"title": null, "legendX": 360, "legendY": 4, "labelExpr": "datum.value === 'V' ? 'Vent Jonquière' : datum.value === 'R' ? 'Rayleigh' : datum.value === 'G' ? 'Gumbel' : 'Weibull'",
  "encode": {"symbols": {"update": {
   "shape": {"signal": "datum.value === 'V' ? 'M-1.75,-0.6H1.75V0.6H-1.75Z' : 'M-1.75,0H1.75'"},
   "fill": {"signal": "datum.value === 'V' ? '#4f81bd' : 'transparent'"},
   "stroke": {"signal": "datum.value === 'V' ? 'transparent' : datum.value === 'R' ? '#c0504d' : datum.value === 'G' ? '#9bbb59' : '#8064a2'"},
   "strokeWidth": {"value": 2.5},
   "strokeDash": {"signal": "datum.value === 'R' ? [0.1,4] : datum.value === 'G' ? [7,4] : datum.value === 'W' ? [10,4,1.5,4,1.5,4] : [1,0]"},
   "strokeCap": {"signal": "datum.value === 'R' ? 'round' : 'butt'"},
   "opacity": {"value": 1}}}}}}
},
"layer": [
{"transform": [{"filter": "datum.s === 'V'"}], "mark": {"type": "bar", "size": 4}},
{"transform": [{"filter": "datum.s === 'R'"}], "mark": {"type": "line", "strokeWidth": 2.5, "strokeDash": [0.1, 4], "strokeCap": "round", "interpolate": "monotone"}},
{"transform": [{"filter": "datum.s === 'G'"}], "mark": {"type": "line", "strokeWidth": 2.5, "strokeDash": [7, 4], "interpolate": "monotone"}},
{"transform": [{"filter": "datum.s === 'W'"}], "mark": {"type": "line", "strokeWidth": 2.5, "strokeDash": [10, 4, 1.5, 4, 1.5, 4], "interpolate": "monotone"}}
]
}
]
}
